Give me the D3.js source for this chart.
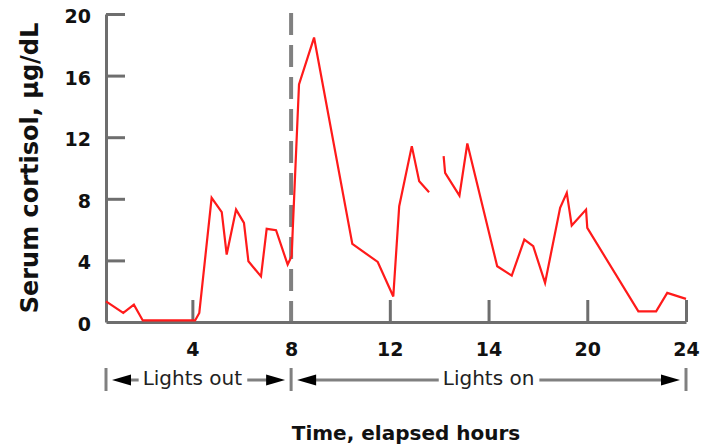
<!DOCTYPE html>
<html>
<head>
<meta charset="utf-8">
<script src="https://cdn.jsdelivr.net/npm/d3@7"></script>
<style>
  html, body { margin: 0; padding: 0; background: #fff; }
  svg { display: block; font-family: "DejaVu Sans", Verdana, sans-serif; }
</style>
</head>
<body>
<svg id="chart" width="716" height="445"></svg>
<script>
// ---- data ----
const hours = [0.5, 1.2, 1.63, 1.99, 4.11, 4.28, 4.78, 5.19, 5.39, 5.77, 6.09, 6.27, 6.78, 7.01, 7.39, 7.86, 8.02, 8.32, 8.93, 10.48, 11.51, 12.14, 12.38, 12.89, 13.19, 13.59,
  null,
  14.18, 14.24, 14.82, 15.14, 16.35, 16.94, 17.45, 17.81, 18.29, 18.9, 19.17, 19.37, 19.95, 20.0, 22.07, 22.79, 23.24, 24.0];
const cortisol = [1.34, 0.59, 1.12, 0.1, 0.1, 0.59, 8.06, 7.13, 4.38, 7.3, 6.44, 3.94, 2.96, 6.05, 5.96, 3.73, 4.27, 15.43, 18.47, 5.07, 3.9, 1.66, 7.52, 11.42, 9.14, 8.43,
  null,
  10.77, 9.69, 8.21, 11.59, 3.62, 3.01, 5.35, 4.92, 2.54, 7.41, 8.39, 6.26, 7.3, 6.11, 0.69, 0.69, 1.89, 1.5];
const xTickValues = [4, 8, 12, 16, 20, 24];
const xTickLabels = ["4", "8", "12", "14", "20", "24"];
const yTickValues = [0, 4, 8, 12, 16, 20];
const periodLabels = ["Lights out", "Lights on"];
const periodStart = [0.5, 8];
const periodEnd = [8, 24];
const periodLabelAt = [4, 16];
const lightsOnHour = 8;
const xTitle = "Time, elapsed hours";
const yTitle = "Serum cortisol, µg/dL";

// ---- layout ----
const svg = d3.select("#chart");
const x = d3.scaleLinear().domain([0.5, 24]).range([106, 686]);
const y = d3.scaleLinear().domain([0, 20]).range([322, 14]);
const axisColor = "#6e6e6e";

// dashed lights-on line
svg.append("line")
  .attr("x1", x(lightsOnHour)).attr("x2", x(lightsOnHour))
  .attr("y1", y(20) - 1).attr("y2", y(0))
  .attr("stroke", "#808080").attr("stroke-width", 4)
  .attr("stroke-dasharray", "22,10");

// x axis
const xAxis = svg.append("g")
  .attr("transform", `translate(0,${y(0)})`)
  .call(d3.axisBottom(x).tickValues(xTickValues)
    .tickFormat((d, i) => xTickLabels[i])
    .tickSize(-22).tickSizeOuter(0).tickPadding(21));
xAxis.select(".domain").attr("stroke", axisColor).attr("stroke-width", 3);
xAxis.selectAll(".tick line").attr("stroke", axisColor).attr("stroke-width", 3)
  .filter(d => d === lightsOnHour).remove();
xAxis.selectAll(".tick text").attr("fill", "#111").attr("font-size", 19)
  .attr("font-weight", "bold").attr("font-family", "DejaVu Sans");

// y axis
const yAxis = svg.append("g")
  .attr("transform", `translate(${x(0.5)},0)`)
  .call(d3.axisLeft(y).tickValues(yTickValues)
    .tickSize(-19).tickSizeOuter(0).tickPadding(15));
yAxis.select(".domain").attr("stroke", axisColor).attr("stroke-width", 3);
yAxis.selectAll(".tick line").attr("stroke", axisColor).attr("stroke-width", 3)
  .filter(d => d === 0).remove();
yAxis.selectAll(".tick text").attr("fill", "#111").attr("font-size", 19)
  .attr("font-weight", "bold").attr("font-family", "DejaVu Sans")
  .attr("dy", "0.45em");

// data line
const pts = hours.map((h, i) => [h, cortisol[i]]);
const line = d3.line()
  .defined(d => d[0] !== null && d[1] !== null)
  .x(d => x(d[0])).y(d => y(d[1]));
svg.append("path")
  .datum(pts)
  .attr("d", line)
  .attr("fill", "none")
  .attr("stroke", "#ff1a1a")
  .attr("stroke-width", 2.2)
  .attr("stroke-linejoin", "miter");

// period annotations
const annY = 380;
const bars = Array.from(new Set(periodStart.concat(periodEnd)));
svg.selectAll("line.bar").data(bars).enter().append("line")
  .attr("class", "bar")
  .attr("x1", d => x(d)).attr("x2", d => x(d))
  .attr("y1", annY - 12).attr("y2", annY + 11)
  .attr("stroke", "#808080").attr("stroke-width", 3);

periodLabels.forEach((lab, i) => {
  const x0 = x(periodStart[i]) + 6, x1 = x(periodEnd[i]) - 6;
  const g = svg.append("g");
  g.append("line").attr("x1", x0 + 10).attr("x2", x1 - 10)
    .attr("y1", annY).attr("y2", annY)
    .attr("stroke", "#808080").attr("stroke-width", 3);
  const t = g.append("text")
    .attr("x", x(periodLabelAt[i])).attr("y", annY + 5)
    .attr("text-anchor", "middle")
    .attr("font-size", 20).attr("fill", "#222")
    .text(lab);
  const bb = t.node().getBBox();
  g.insert("rect", "text")
    .attr("x", bb.x - 4).attr("y", annY - 4)
    .attr("width", bb.width + 9).attr("height", 8)
    .attr("fill", "#fff");
  // arrowheads
  g.append("path")
    .attr("d", `M${x0},${annY} L${x0 + 19},${annY - 5.5} L${x0 + 19},${annY + 5.5} Z`)
    .attr("fill", "#000");
  g.append("path")
    .attr("d", `M${x1},${annY} L${x1 - 19},${annY - 5.5} L${x1 - 19},${annY + 5.5} Z`)
    .attr("fill", "#000");
});

// titles
svg.append("text")
  .attr("x", 406).attr("y", 440)
  .attr("text-anchor", "middle")
  .attr("font-size", 20).attr("font-weight", "bold").attr("fill", "#111")
  .text(xTitle);

svg.append("text")
  .attr("transform", "translate(38,168) rotate(-90)")
  .attr("text-anchor", "middle")
  .attr("font-size", 24).attr("font-weight", "bold").attr("fill", "#111")
  .text(yTitle);
</script>
</body>
</html>
